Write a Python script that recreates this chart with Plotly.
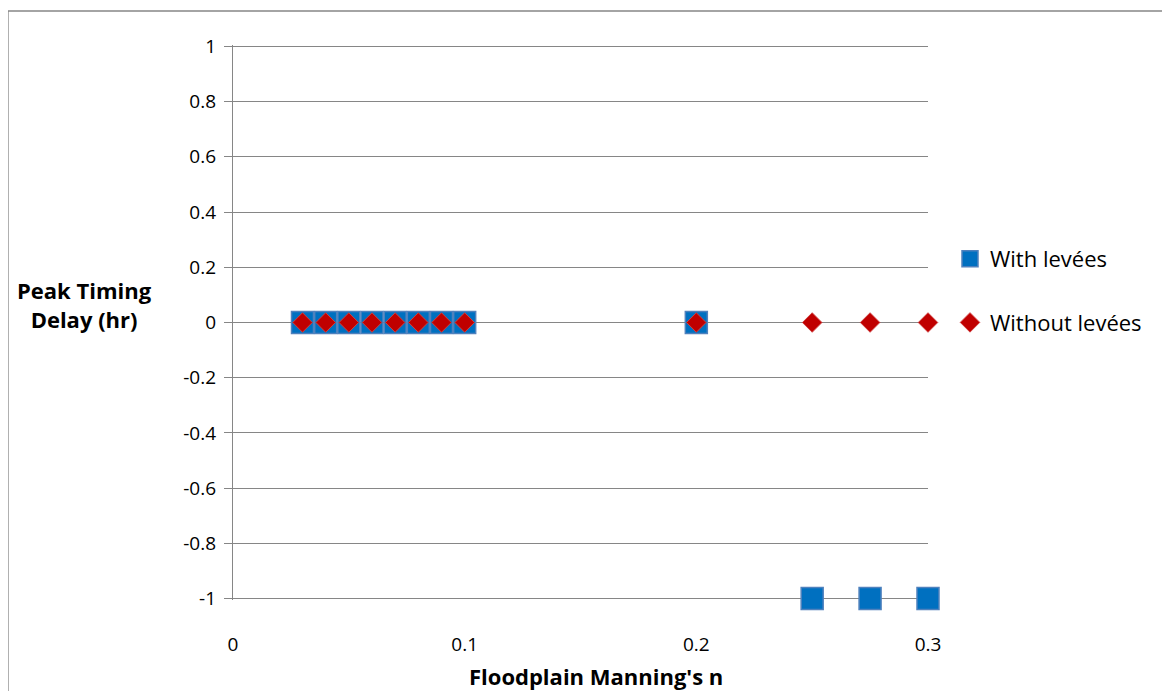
import plotly.graph_objects as go

manning_n = [0.03, 0.04, 0.05, 0.06, 0.07, 0.08, 0.09, 0.1, 0.2, 0.25, 0.275, 0.3]
with_levees = [0, 0, 0, 0, 0, 0, 0, 0, 0, -1, -1, -1]
without_levees = [0, 0, 0, 0, 0, 0, 0, 0, 0, 0, 0, 0]

y_tick_vals = [-1, -0.8, -0.6, -0.4, -0.2, 0, 0.2, 0.4, 0.6, 0.8, 1]
y_tick_text = ["-1", "-0.8", "-0.6", "-0.4", "-0.2", "0", "0.2", "0.4", "0.6", "0.8", "1"]
x_tick_vals = [0, 0.1, 0.2, 0.3]
x_tick_text = ["0", "0.1", "0.2", "0.3"]

FONT = "Open Sans, Lato, sans-serif"
GRID = "#868686"

fig = go.Figure()
fig.add_trace(go.Scatter(
    x=manning_n, y=with_levees, mode="markers", name="With levées",
    legendgroup="a", cliponaxis=False,
    marker=dict(symbol="square", size=22, color="#0070C0",
                line=dict(color="#4F81BD", width=1.5)),
))
fig.add_trace(go.Scatter(
    x=manning_n, y=without_levees, mode="markers", name="Without levées",
    legendgroup="b", cliponaxis=False,
    marker=dict(symbol="diamond", size=15, color="#C00000",
                line=dict(color="#D04040", width=1)),
))

# page body has an 8px margin, so work in reference pixels minus 8
OFF = 8
W, H = 1170 - OFF, 691 - OFF
L, T = 233 - OFF, 45 - OFF
pw, ph = 695, 555
R, B = W - L - pw, H - T - ph

def px_x(p):
    return (p - OFF - L) / pw

def px_y(p):
    return (T + ph - (p - OFF)) / ph

fig.add_shape(type="rect", xref="paper", yref="paper",
              x0=px_x(8), x1=px_x(1163), y0=px_y(730), y1=px_y(11),
              line=dict(color=GRID, width=1.3), layer="below")

fig.add_annotation(xref="paper", yref="paper", x=px_x(84), y=px_y(304),
                   xanchor="center", yanchor="middle",
                   text="<b>Peak Timing<br>Delay (hr)</b>", showarrow=False,
                   font=dict(family=FONT, size=22, color="black"), align="center")
fig.add_annotation(xref="paper", yref="paper", x=px_x(596), y=px_y(676),
                   xanchor="center", yanchor="middle",
                   text="<b>Floodplain Manning's n</b>", showarrow=False,
                   font=dict(family=FONT, size=22, color="black"))

fig.update_layout(
    width=W, height=H,
    margin=dict(l=L, r=R, t=T, b=B),
    paper_bgcolor="white", plot_bgcolor="white",
    font=dict(family=FONT, size=19, color="black"),
    showlegend=True,
    legend=dict(x=px_x(950), y=px_y(238), xanchor="left", yanchor="top",
                tracegroupgap=32, font=dict(family=FONT, size=22, color="black"),
                bgcolor="rgba(0,0,0,0)", itemsizing="trace"),
    xaxis=dict(range=[0, 0.3], tickvals=x_tick_vals, ticktext=x_tick_text,
               showgrid=False, zeroline=False, showline=False, ticks="",
               ticklabelstandoff=31, tickfont=dict(size=19)),
    yaxis=dict(range=[-1.005, 1.005], tickvals=y_tick_vals, ticktext=y_tick_text,
               showgrid=True, gridcolor=GRID, gridwidth=1.3,
               zeroline=False, showline=True, linecolor=GRID, linewidth=1.3,
               ticks="outside", ticklen=8, tickcolor=GRID, tickwidth=1.3,
               tickfont=dict(size=19), ticklabelstandoff=4),
)

fig.write_html("out.html")
